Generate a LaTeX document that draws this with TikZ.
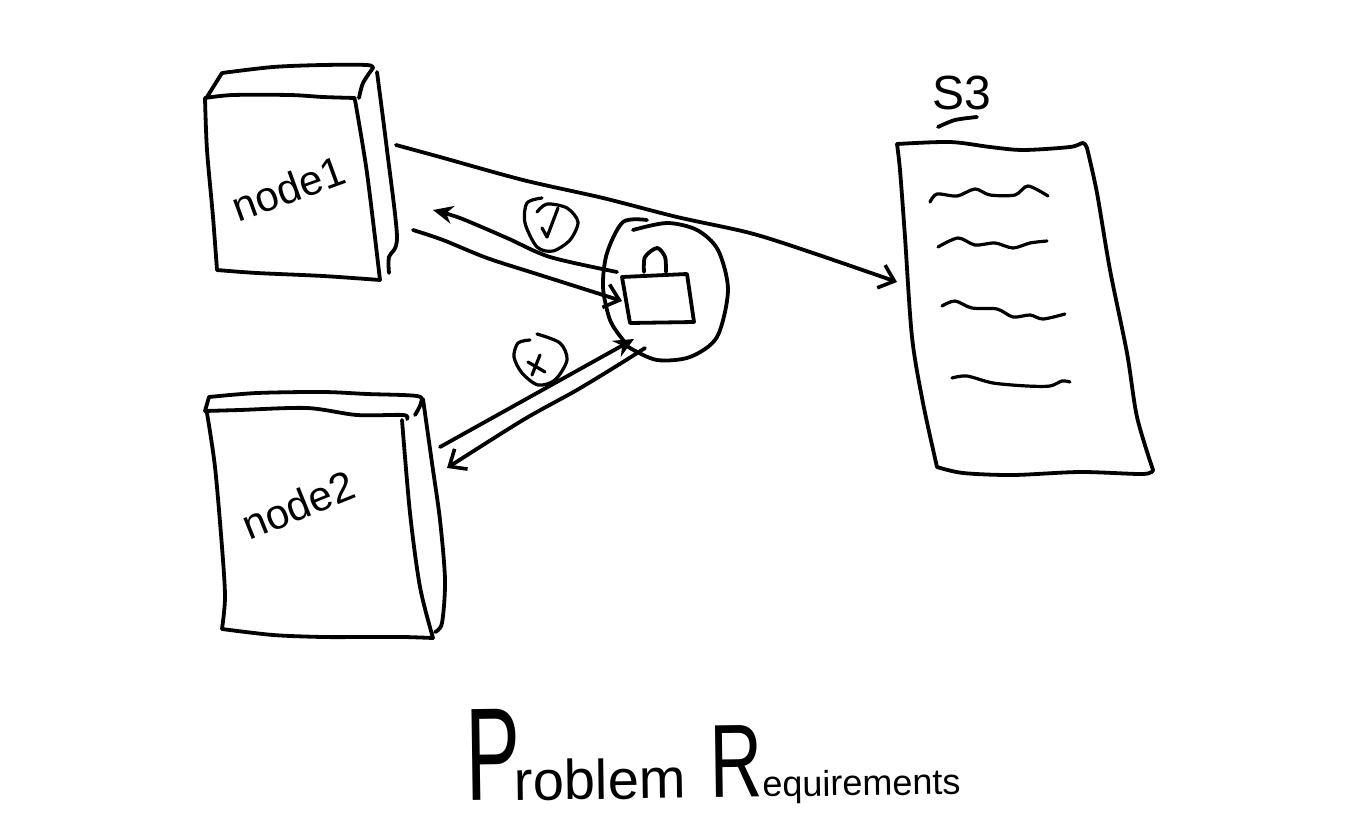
\documentclass[tikz,border=0pt]{standalone}
\usepackage{fontspec}
\setmainfont{Liberation Sans}
\usetikzlibrary{arrows.meta}
\tikzset{
  ink/.style={draw=black,line width=1.9pt,line cap=round,line join=round},
  thinink/.style={draw=black,line width=1.6pt,line cap=round,line join=round},
  openhead/.style={-{Straight Barb[length=7pt,width=12pt,line width=1.8pt]}},
  solidhead/.style={-{Stealth[length=10pt,width=9pt]}},
  label/.style={inner sep=0pt,text=black},
}
\newcommand\sk[2][ink]{\draw[#1] plot[smooth,tension=.5] coordinates {#2};}
\begin{document}
\begin{tikzpicture}[x=0.5pt,y=-0.5pt]
\fill[white] (0,0) rectangle (1346,830);
\useasboundingbox (0,0) rectangle (1346,830);

% node 1 box
\sk{(205,98) (233,95) (290,95) (323,97) (355,98)}
\sk{(355,100) (367,173) (380,280)}
\sk{(380,280) (323,276) (257,273) (217,270)}
\sk{(217,270) (213,217) (207,150) (205,98)}
\draw[ink] (207,97) -- (222,73);
\sk{(222,73) (273,67) (323,65) (367,65) (373,68)}
\sk{(373,68) (363,83) (359,98)}
\sk{(377,72) (387,150) (397,237) (389,257) (389,273)}
\node[label,rotate=20,font=\fontsize{21}{21}\selectfont] (node1) at (288,188) {node1};

% node 2 box
\sk{(205,411) (240,410) (307,408) (357,415) (403,415) (407,419)}
\draw[ink] (205,411) -- (209,397);
\sk{(209,397) (257,393) (323,392) (367,394) (417,396) (421,403) (415,415)}
\sk{(207,413) (215,467) (222,547) (225,597) (222,629)}
\sk{(222,629) (273,635) (323,637) (363,637) (403,637) (433,638)}
\sk{(402,420) (410,513) (420,587) (433,638)}
\sk{(423,399) (432,463) (440,520) (445,580) (442,623) (435,632)}
\node[label,rotate=22,font=\fontsize{21}{21}\selectfont] (node2) at (298,505) {node2};

% S3 document
\sk{(897,144) (950,142) (990,147) (1023,150) (1070,147) (1083,143) (1087,148)}
\sk{(1087,148) (1097,193) (1110,270) (1127,353) (1137,417) (1153,470)}
\sk{(1153,470) (1143,474) (1080,472) (1013,475) (963,473) (937,467)}
\sk{(937,467) (923,403) (912,337) (905,237) (900,170) (897,144)}
\sk[thinink]{(930,202) (937,194) (957,196) (975,189) (990,195) (1015,195) (1028,186) (1048,196)}
\sk[thinink]{(938,247) (958,238) (975,245) (995,243) (1013,248) (1030,243) (1047,241)}
\sk[thinink]{(942,306) (955,301) (972,308) (997,309) (1013,317) (1030,315) (1043,319) (1065,314)}
\sk[thinink]{(952,378) (967,376) (993,383) (1027,386) (1050,386) (1062,381) (1070,382)}
\node[label,font=\fontsize{24}{24}\selectfont] (s3) at (962,93) {S3};
\sk{(938,127) (955,120) (977,117)}

% lock circle
\sk{(647,220) (623,222) (607,253) (603,287) (610,320) (623,340) (630,348) (657,360) (690,357) (717,337) (728,290) (718,250) (697,230) (667,223) (633,230)}
% padlock
\draw[ink] (622,277) -- (687,274) -- (694,322) -- (630,323) -- cycle;
\sk{(644,272) (645,257) (657,248) (665,257) (666,272)}

% connector end points
\coordinate (a1) at (396,145);
\coordinate (a2) at (897,282);
\coordinate (b1) at (617,272);
\coordinate (b2) at (433,210);
\coordinate (c1) at (413,230);
\coordinate (c2) at (622,301);
\coordinate (d1) at (440,447);
\coordinate (d2) at (634,339);
\coordinate (e1) at (645,348);
\coordinate (e2) at (447,468);

% connectors
\draw[ink,openhead] plot[smooth,tension=.5] coordinates {(a1) (440,157) (523,180) (603,198) (677,217) (750,233) (810,252) (a2)};
\draw[ink,solidhead] plot[smooth,tension=.5] coordinates {(b1) (550,257) (507,238) (460,218) (b2)};
\draw[ink,openhead] plot[smooth,tension=.5] coordinates {(c1) (443,240) (487,258) (540,275) (c2)};
\draw[ink,solidhead] (d1) -- (d2);
\draw[ink,openhead] plot[smooth,tension=.5] coordinates {(e1) (623,362) (577,390) (523,420) (e2)};

% check badge
\sk[thinink]{(542,198) (527,203) (525,223) (537,247) (553,251) (570,240) (578,222) (567,208) (547,204) (537,212)}
\draw[thinink] (542,228) -- (547,237) -- (558,208);
% cross badge
\sk[thinink]{(530,340) (518,343) (514,357) (522,373) (538,385) (555,380) (567,360) (560,343) (537,334)}
\draw[thinink] (540,355) -- (532,375);
\draw[thinink] (528,362) -- (545,372);

% title
\node[label,anchor=base west,rotate=0.8] (title) at (466,801) {%
  \fontsize{66}{66}\selectfont\scalebox{.62}[1]{P}%
  \hspace{-3pt}\fontsize{28}{28}\selectfont roblem\hspace{12pt}%
  \fontsize{52}{52}\selectfont\scalebox{.7}[1]{R}%
  \fontsize{18}{18}\selectfont equirements};
\end{tikzpicture}
\end{document}
